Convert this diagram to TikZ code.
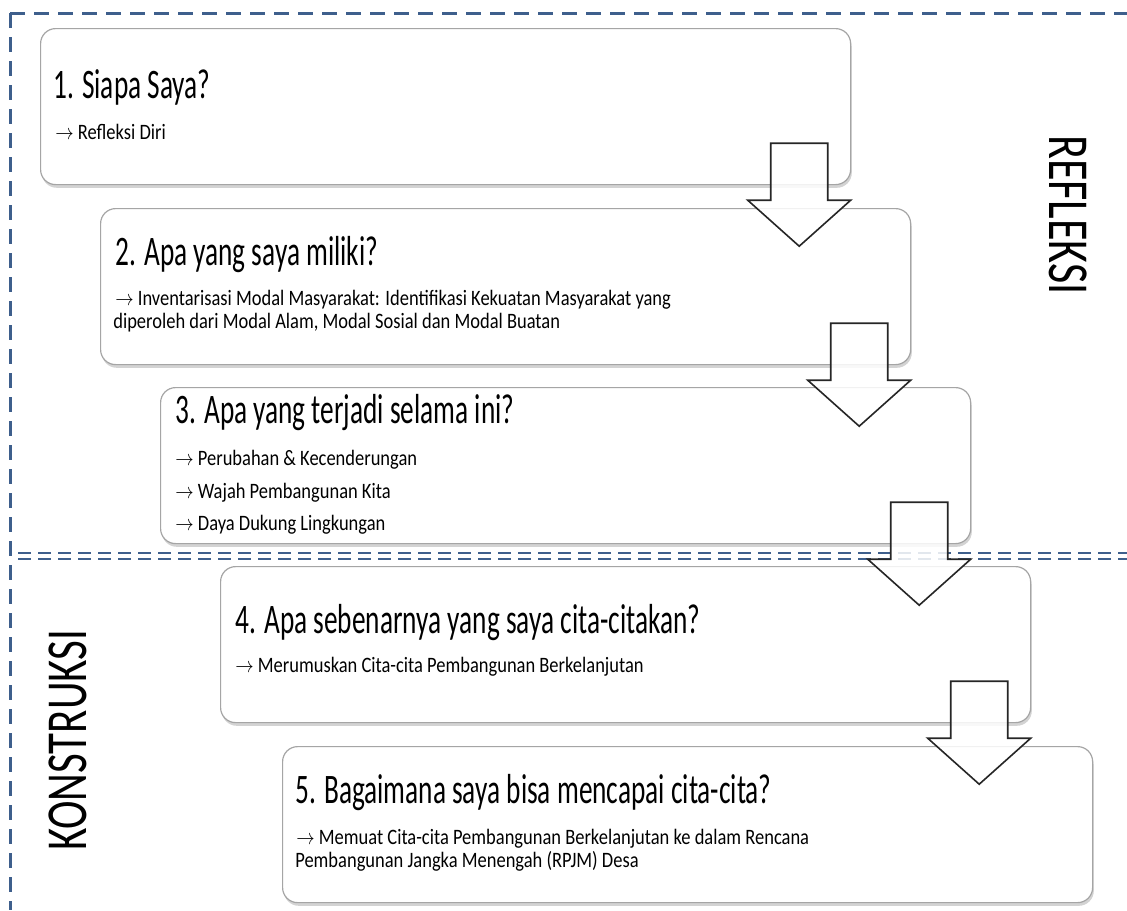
\documentclass[tikz,border=0pt]{standalone}
\usepackage{fontspec}
\setmainfont{Carlito}
\usepackage{tikz}
\usetikzlibrary{calc,shadows,positioning}

\definecolor{dashblue}{RGB}{62,95,140}
\definecolor{boxgray}{RGB}{165,165,165}

\begin{document}
\begin{tikzpicture}[
    x=0.5pt, y=-0.5pt,
    stepbox/.style={draw=boxgray, line width=0.6pt, fill=white, rounded corners=7.5pt,
      minimum width=405pt, minimum height=78pt, anchor=north west, inner sep=0pt,
      drop shadow={shadow xshift=0.6pt, shadow yshift=-1.6pt, opacity=0.35}},
    ttl/.style={anchor=base west, inner sep=0pt, xscale=0.65, transform shape,
      font=\fontsize{21}{22}\selectfont},
    sub/.style={anchor=base west, inner sep=0pt, xscale=0.84, transform shape,
      font=\fontsize{11}{12}\selectfont, align=left},
    side/.style={inner sep=0pt, transform shape,
      font=\fontsize{29}{30}\selectfont},
    sepline/.style={draw=dashblue, line width=1.5pt, dash pattern=on 7.5pt off 4.5pt},
    dblline/.style={draw=dashblue, line width=1.4pt, dash pattern=on 6.5pt off 3.5pt},
    blockarr/.style={draw=black!85, line width=0.8pt, fill=white, fill opacity=0.85,
      line join=miter}
  ]
    \useasboundingbox (0,0) rectangle (1127,910);

    % dashed frame
    \draw[sepline] (10,13) -- (1127,13);
    \draw[sepline] (10,13) -- (10,910);
    \draw[dblline] (18,553) -- (1127,553);
    \draw[dblline] (18,559) -- (1127,559);

    % steps
    \node[stepbox] (box1) at (40,28) {};
    \node[stepbox] (box2) at (100,208) {};
    \node[stepbox] (box3) at (160,387) {};
    \node[stepbox] (box4) at (220,566) {};
    \node[stepbox] (box5) at (282,746) {};

    \node[ttl] (t1) at (53,98) {1. Siapa Saya?};
    \node[sub] (s1) at (55,139) {$\rightarrow$ Refleksi Diri};

    \node[ttl] (t2) at (115,265) {2. Apa yang saya miliki?};
    \node[sub] (s2) at (115,305) {$\rightarrow$ Inventarisasi Modal Masyarakat: Identifikasi Kekuatan Masyarakat yang};
    \node[sub] (s2b) at (113,328) {diperoleh dari Modal Alam, Modal Sosial dan Modal Buatan};

    \node[ttl] (t3) at (175,423) {3. Apa yang terjadi selama ini?};
    \node[sub] (s3) at (175,465) {$\rightarrow$ Perubahan \& Kecenderungan};
    \node[sub] (s3b) at (175,498) {$\rightarrow$ Wajah Pembangunan Kita};
    \node[sub] (s3c) at (175,530) {$\rightarrow$ Daya Dukung Lingkungan};

    \node[ttl] (t4) at (235,633) {4. Apa sebenarnya yang saya cita-citakan?};
    \node[sub] (s4) at (235,672) {$\rightarrow$ Merumuskan Cita-cita Pembangunan Berkelanjutan};

    \node[ttl] (t5) at (295,803) {5. Bagaimana saya bisa mencapai cita-cita?};
    \node[sub] (s5) at (296,844) {$\rightarrow$ Memuat Cita-cita Pembangunan Berkelanjutan ke dalam Rencana};
    \node[sub] (s5b) at (295,867) {Pembangunan Jangka Menengah (RPJM) Desa};

    % block arrows between steps
    \foreach \i in {1,...,4} {
      \coordinate (a\i) at ($(box\i.south east)+(-52,-42)$);
      \draw[blockarr] (a\i) ++(-28.5,0) -- ++(0,57) -- ++(-23,0) -- ++(51.5,46)
        -- ++(51.5,-46) -- ++(-23,0) -- ++(0,-57) -- cycle;
    }

    % phases
    \node[side, rotate=-90, xscale=0.76] (refl) at (1068,215) {REFLEKSI};
    \node[side, rotate=90, xscale=0.74] (kons) at (68,740) {KONSTRUKSI};
  \end{tikzpicture}
\end{document}
